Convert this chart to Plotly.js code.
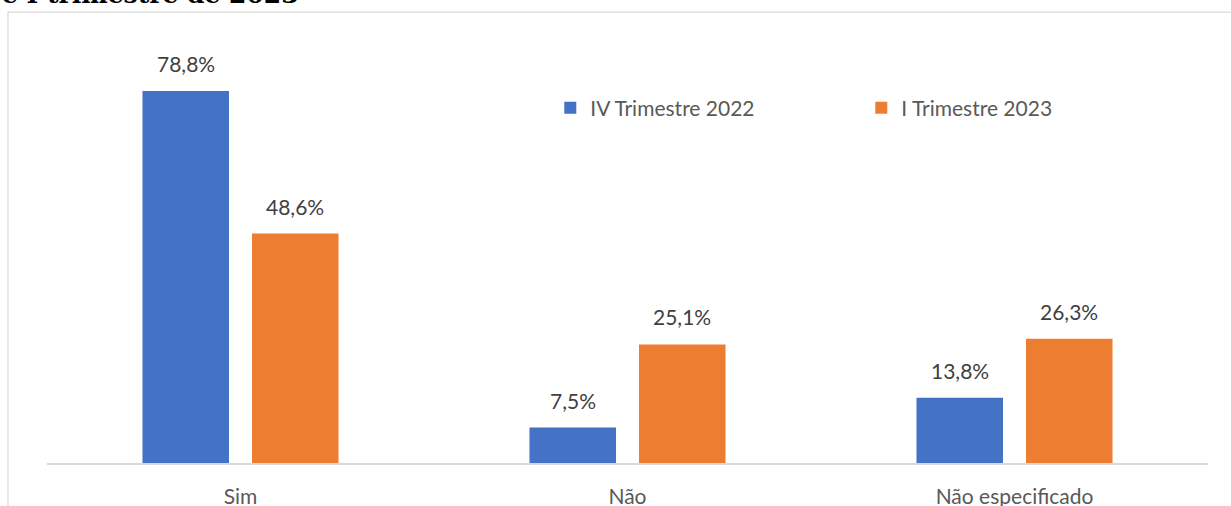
<!DOCTYPE html>
<html>
<head>
<meta charset="utf-8">
<script src="https://cdn.plot.ly/plotly-3.0.1.min.js"></script>
<style>html,body{margin:0;padding:0;background:#fff;}#chart{width:1231px;height:506px;}</style>
</head>
<body>
<div id="chart"></div>
<script>
const categories = ["Sim", "Não", "Não especificado"];
const seriesNames = ["IV Trimestre 2022", "I Trimestre 2023"];
const values2022 = [78.8, 7.5, 13.8];
const values2023 = [48.6, 25.1, 26.3];
const titleText = "e I trimestre de 2023";

const fmt = v => v.toFixed(1).replace(".", ",") + "%";
const fontFam = "Lato, 'Open Sans', sans-serif";

const traces = [
  {type: "bar", name: seriesNames[0], x: categories, y: values2022,
   marker: {color: "#4472C4"}, hoverinfo: "skip"},
  {type: "bar", name: seriesNames[1], x: categories, y: values2023,
   marker: {color: "#ED7D31"}, hoverinfo: "skip"}
];

const annotations = [];
[values2022, values2023].forEach((vals, si) => {
  vals.forEach((v, i) => {
    annotations.push({
      x: categories[i], y: v, xref: "x", yref: "y",
      text: fmt(v), showarrow: false,
      xshift: si === 0 ? -54.75 : 54.75, yshift: 13, yanchor: "bottom",
      font: {family: fontFam, size: 21, color: "#404040"}
    });
  });
});
annotations.push({
  xref: "paper", yref: "paper", x: -0.0405, y: 1.0625, xanchor: "left", yanchor: "bottom",
  text: "<b>" + titleText + "</b>", showarrow: false,
  font: {family: "'DejaVu Serif', serif", size: 25, color: "#000"}
});

const layout = {
  width: 1231, height: 506,
  margin: {l: 47, r: 23, t: 38, b: 43},
  paper_bgcolor: "#fff", plot_bgcolor: "#fff",
  barmode: "group", bargap: 0.434, bargroupgap: 0.21,
  showlegend: true,
  legend: {orientation: "h", x: 0.4335, y: 0.835, xanchor: "left", yanchor: "middle",
           font: {family: fontFam, size: 21, color: "#595959"},
           entrywidth: 266, itemwidth: 30, traceorder: "normal"},
  xaxis: {showline: true, linecolor: "#d9d9d9", linewidth: 1.5, showgrid: false,
          ticks: "", ticklabelstandoff: 14,
          tickfont: {family: fontFam, size: 21, color: "#595959"}, fixedrange: true},
  yaxis: {range: [0, 90], visible: false, showgrid: false, zeroline: false, fixedrange: true},
  annotations: annotations,
  shapes: [{type: "rect", xref: "paper", yref: "paper",
            x0: -0.0336, x1: 1.1, y0: -0.3, y1: 1.061,
            line: {color: "#d9d9d9", width: 1.3}, fillcolor: "rgba(0,0,0,0)", layer: "below"}]
};

Plotly.newPlot("chart", traces, layout, {displayModeBar: false, staticPlot: true});
</script>
</body>
</html>
